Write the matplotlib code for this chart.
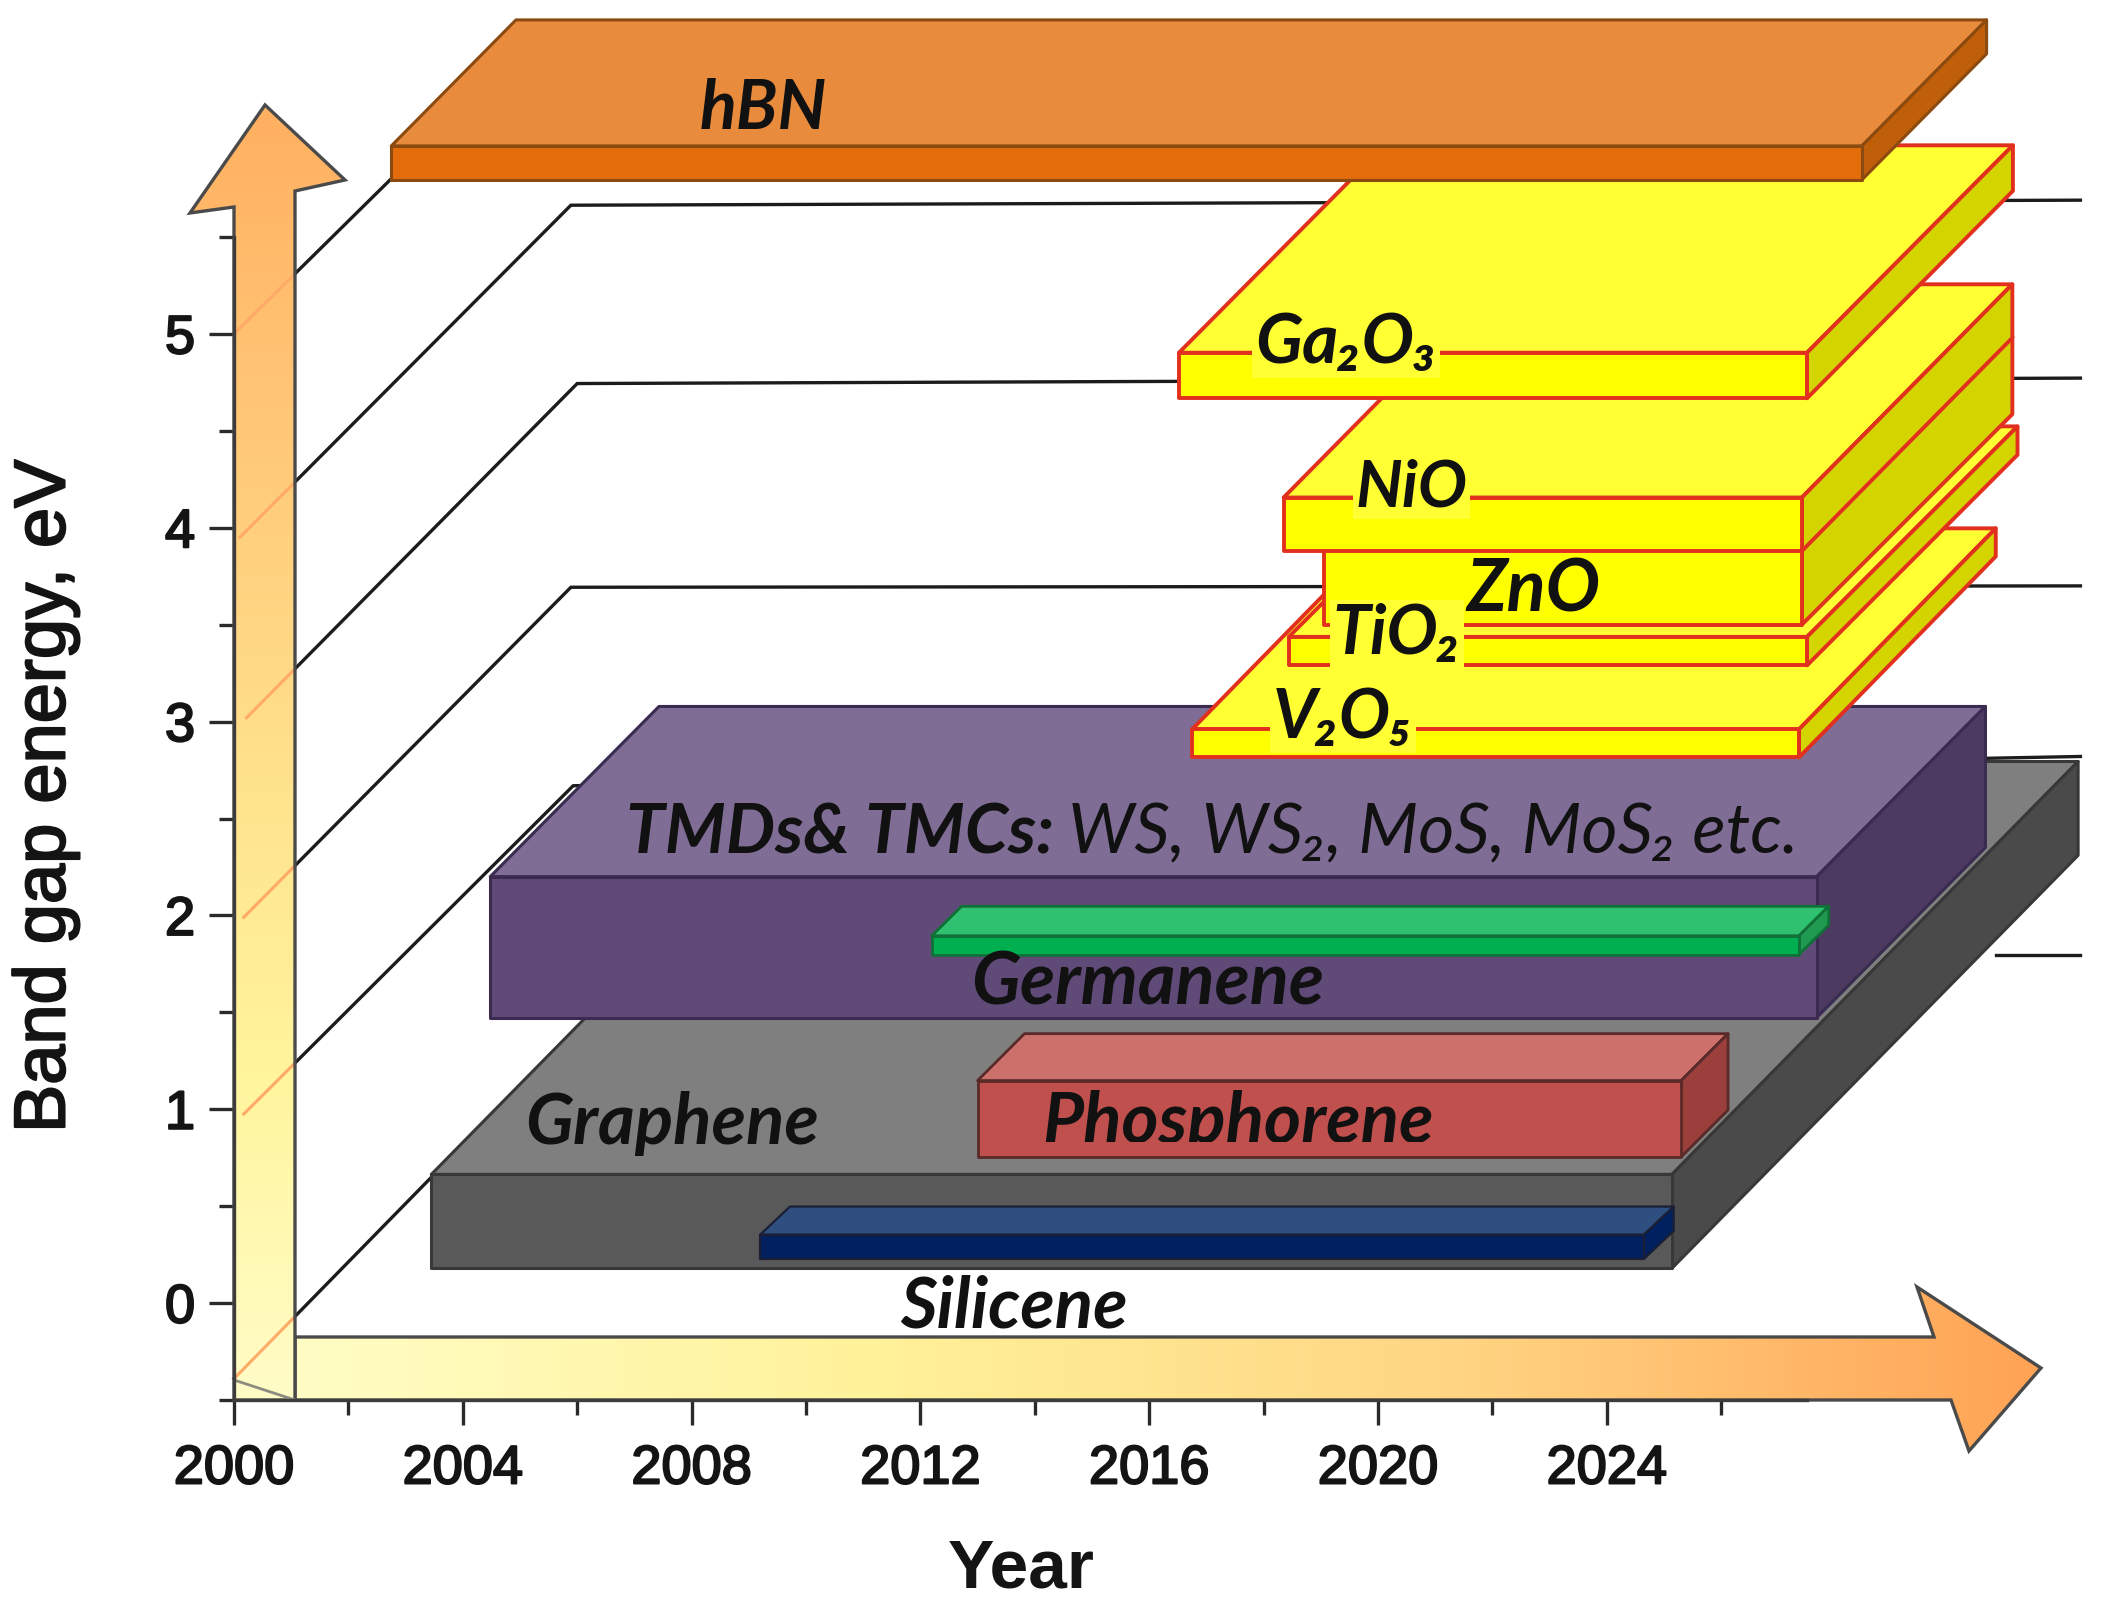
import matplotlib
matplotlib.use("Agg")
import matplotlib.pyplot as plt
import matplotlib.patheffects as pe
import numpy as np
from matplotlib.colors import LinearSegmentedColormap
from matplotlib.patches import Polygon
from matplotlib.transforms import Bbox, TransformedBbox

W, H = 2101, 1613
plt.rcParams["font.family"] = ["Liberation Sans", "DejaVu Sans"]
LABEL_FONT = ["Lato", "Open Sans", "DejaVu Sans"]

# materials: front face of each slab, years and eV, back to front
names = ["Graphene", "Phosphorene", "Silicene", "TMDs", "Germanene", "V2O5", "TiO2", "ZnO", "NiO", "Ga2O3", "hBN"]
year_start = [2003.45, 2013.0, 2009.2, 2004.48, 2012.2, 2016.75, 2018.44, 2019.05, 2018.35, 2016.52, 2002.75]
year_end = [2025.14, 2025.3, 2024.65, 2027.67, 2027.36, 2027.36, 2027.5, 2027.41, 2027.41, 2027.5, 2028.46]
ev_low = [0.18, 0.754, 0.228, 1.473, 1.798, 2.815, 3.29, 3.5, 3.88, 4.668, 5.795]
ev_high = [0.664, 1.148, 0.353, 2.2, 1.895, 2.96, 3.437, 3.9, 4.156, 4.903, 5.97]
depth_year = [7.1, 0.82, 0.52, 2.95, 0.52, 3.44, 3.68, 3.68, 3.68, 3.6, 2.18]
depth_ev = [2.13, 0.242, 0.145, 0.878, 0.152, 1.037, 1.086, 1.086, 1.1, 1.07, 0.65]

# (front, top, side, edge, edge width)
GREY = ("#595959", "#7F7F7F", "#4A4A4A", "#383838", 2.2)
RED = ("#C0504D", "#CC706C", "#9A3F3C", "#5A2A28", 2.0)
NAVY = ("#002060", "#2F4F80", "#00205F", "#1A1F35", 1.6)
PURPLE = ("#5F4A78", "#7F6D95", "#4C3A60", "#3B2B50", 2.2)
GREEN = ("#00B050", "#2FC170", "#1F9A50", "#107038", 2.0)
YELLOW = ("#FFFF00", "#FFFF33", "#D4D400", "#E2301E", 2.8)
ORANGE = ("#E46C0A", "#E98B3D", "#C05F0A", "#8A4A10", 2.2)
styles = [GREY, RED, NAVY, PURPLE, GREEN, YELLOW, YELLOW, YELLOW, YELLOW, YELLOW, ORANGE]

# guide lines on the back wall
wall_start_year = [2000.0, 2000.1, 2000.22, 2000.17, 2000.17, 2000.0]
wall_start_ev = [5.0, 3.95, 3.02, 1.99, 0.975, -0.39]
wall_knee_year = [2002.73, 2005.89, 2006.0, 2005.89, 2005.93, 2005.98]
wall_knee_ev = [5.795, 5.664, 4.744, 3.693, 2.669, 1.411]
wall_end_year = [2002.73, 2032.28, 2032.28, 2032.28, 2032.28, 2027.0]
wall_end_ev = [5.795, 5.69, 4.772, 3.70, 2.82, 1.411]
stub_year = [2030.8, 2032.28]
stub_ev = [1.798, 1.798]

x_ticks = [2000, 2004, 2008, 2012, 2016, 2020, 2024]
x_minor = [2002, 2006, 2010, 2014, 2018, 2022, 2026]
y_ticks = [0, 1, 2, 3, 4, 5]
y_minor = [-0.5, 0.5, 1.5, 2.5, 3.5, 4.5, 5.5]

label_text = ["hBN", "Ga₂O₃", "NiO", "ZnO", "TiO₂", "V₂O₅", "Germanene", "Graphene", "Phosphorene", "Silicene"]
label_year = [2008.14, 2017.85, 2019.61, 2021.55, 2019.21, 2018.16, 2012.89, 2005.09, 2014.13, 2011.65]
label_ev = [6.156, 4.95, 4.21, 3.675, 3.45, 3.015, 1.647, 0.925, 0.934, -0.02]
label_size = [49, 50, 47, 52, 49, 49, 52, 51, 51, 51]
label_backed = [False, True, True, False, True, True, False, False, False, False]

fig = plt.figure(figsize=(W / 100, H / 100), dpi=100)
ax = fig.add_axes([234 / W, 1 - 1400 / H, (1807 - 234) / W, (1400 - 237) / H])
ax.set_xlim(2000, 2027.5)
ax.set_ylim(-0.5, 5.5)


def from_px(x, y):
    """Picture pixels to data units, for the decorative arrows."""
    return (2000 + (x - 234) / 57.2, -0.5 + (1400 - y) / 193.83)


def draw_slab(start, end, low, high, dx, dy, style, z):
    front, top, side, edge, lw = style
    kw = dict(closed=True, edgecolor=edge, linewidth=lw, joinstyle="round", clip_on=False, zorder=z)
    ax.add_patch(Polygon([(start, high), (end, high), (end + dx, high + dy), (start + dx, high + dy)], facecolor=top, **kw))
    ax.add_patch(Polygon([(end, low), (end + dx, low + dy), (end + dx, high + dy), (end, high)], facecolor=side, **kw))
    ax.add_patch(Polygon([(start, low), (end, low), (end, high), (start, high)], facecolor=front, **kw))


def draw_arrow(points_px, gradient, colors, z):
    pts = [from_px(*p) for p in points_px]
    cmap = LinearSegmentedColormap.from_list("arrow", colors)
    xs, ys = zip(*pts)
    poly = Polygon(pts, closed=True, transform=ax.transData, facecolor="none", edgecolor="#4A4A4A",
                   linewidth=2.4, clip_on=False, zorder=z + 0.1)
    ax.add_patch(poly)
    img = ax.imshow(gradient, cmap=cmap, vmin=0, vmax=1, aspect="auto", origin="lower",
                    extent=(min(xs), max(xs), min(ys), max(ys)), zorder=z, interpolation="bilinear")
    img.set_clip_box(fig.bbox)
    img.set_clip_path(poly)
    return poly


# wall lines sit behind everything
wall_paths = []
for i in range(len(wall_start_ev)):
    xs = [wall_start_year[i], wall_knee_year[i], wall_end_year[i]]
    ys = [wall_start_ev[i], wall_knee_ev[i], wall_end_ev[i]]
    wall_paths.append((xs, ys))
    ax.plot(xs, ys, color="#1C1C1C", lw=2.4, clip_on=False, zorder=1, solid_joinstyle="miter")
ax.plot(stub_year, stub_ev, color="#1C1C1C", lw=2.4, clip_on=False, zorder=1)

for i in range(len(names)):
    draw_slab(year_start[i], year_end[i], ev_low[i], ev_high[i], depth_year[i], depth_ev[i], styles[i], 3 + i * 0.1)

# gradient arrows
ramp = np.linspace(0, 1, 256)
h_arrow = [(295, 1337), (1934, 1337), (1917, 1287), (2041, 1368), (1969, 1451), (1951, 1400), (295, 1400)]
draw_arrow(h_arrow, ramp[None, :], ["#FFFDC4", "#FFF29A", "#FFD583", "#FFA355"], 5)
v_arrow = [(234, 1400), (234, 207), (190, 213), (265, 105), (345, 180), (295, 191), (295, 1400)]
v_poly = draw_arrow(v_arrow, ramp[:, None], ["#FFFCC6", "#FFF59D", "#FFE08B", "#FFC878", "#FFB060"], 6)

# wall lines show through the upright arrow as faint orange
for xs, ys in wall_paths:
    ln, = ax.plot(xs, ys, color="#FFAA66", lw=2.2, zorder=6.05)
    ln.set_clip_box(fig.bbox)
    ln.set_clip_path(v_poly)
x0, y0 = from_px(234, 1380)
x1, y1 = from_px(295, 1400)
ax.plot([x0, x1], [y0, y1], color="#8C8C80", lw=2, zorder=6.2, clip_on=False)

ax.set_xlim(2000, 2027.5)
ax.set_ylim(-0.5, 5.5)

# axes
for s in ("top", "right"):
    ax.spines[s].set_visible(False)
for s in ("left", "bottom"):
    ax.spines[s].set_color("#3C3C3C")
    ax.spines[s].set_linewidth(2.4)
    ax.spines[s].set_zorder(7)
ax.set_xticks(x_ticks)
ax.set_xticks(x_minor, minor=True)
ax.set_yticks(y_ticks)
ax.set_yticks(y_minor, minor=True)
ax.tick_params(which="major", length=18, width=2.4, color="#2A2A2A", labelsize=39, labelcolor="#141414")
ax.tick_params(which="minor", length=10.5, width=2.4, color="#2A2A2A")
ax.tick_params(axis="x", pad=14)
ax.tick_params(axis="y", pad=10)
ax.patch.set_alpha(0)
stroke = [pe.withStroke(linewidth=1.5, foreground="#141414")]
for t in ax.get_xticklabels() + ax.get_yticklabels():
    t.set_path_effects(stroke)

fig.text(1021 / W, 1 - 1570 / H, "Year", fontsize=50, fontweight="bold", color="#141414", ha="center", va="center")
fig.text(46 / W, 1 - 796 / H, "Band gap energy, eV", fontsize=52, rotation=90, color="#141414",
         ha="center", va="center", path_effects=stroke)

# slab labels
for i, txt in enumerate(label_text):
    box = dict(facecolor="#FFFF33", edgecolor="none", pad=2) if label_backed[i] else None
    t = ax.text(label_year[i], label_ev[i], txt, fontsize=label_size[i], fontweight="bold", style="italic",
                family=LABEL_FONT, color="#111111", ha="left", va="center", bbox=box, zorder=10, clip_on=False)
    if txt == "Phosphorene":
        # descender is cut off in the original
        t.set_clip_on(True)
        t.set_clip_box(TransformedBbox(Bbox([[2010, 0.83], [2030, 2.0]]), ax.transData))
ax.text(2006.85, 2.42, "TMDs& TMCs:", fontsize=50, fontweight="bold", style="italic", family=LABEL_FONT,
        color="#111111", ha="left", va="center", zorder=10)
ax.text(2014.58, 2.42, "WS, WS₂, MoS, MoS₂ etc.", fontsize=50, style="italic", family=LABEL_FONT,
        color="#111111", ha="left", va="center", zorder=10)

fig.savefig("out.png", dpi=100)
